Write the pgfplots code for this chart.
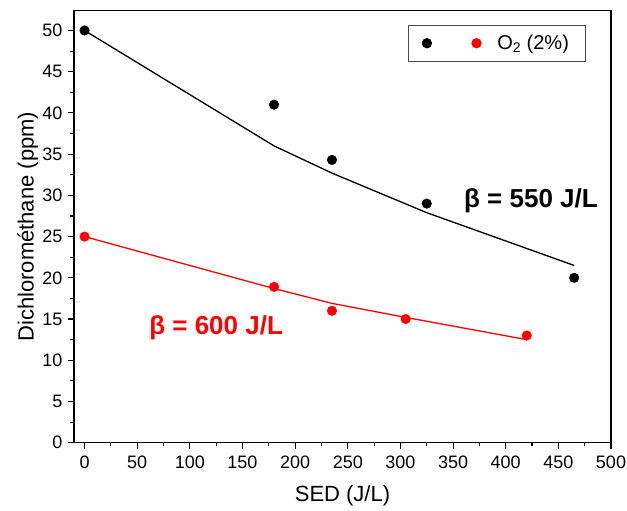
\documentclass[border=0pt]{standalone}
\usepackage{pgfplots}
\pgfplotsset{compat=1.18}
\usepackage{fontspec}
\setmainfont{Liberation Sans}
\begin{document}
\begin{tikzpicture}
\path[use as bounding box] (0,0) rectangle (627bp,511bp);
\begin{axis}[
  at={(74bp,68.3bp)}, anchor=south west,
  scale only axis, width=537bp, height=432bp,
  xmin=-10, xmax=500, ymin=0, ymax=52.4,
  xtick={0,50,...,500}, ytick={0,5,...,50},
  minor x tick num=1, minor y tick num=1,
  axis line style={line width=1.3bp},
  tick style={line width=1.1bp, black},
  major tick length=6bp, minor tick length=3.5bp,
  tick align=outside,
  xtick pos=bottom, ytick pos=left,
  /pgf/number format/assume math mode=true,
  ticklabel style={font=\fontsize{18bp}{20bp}\selectfont},
  xticklabel style={yshift=-4bp},
  yticklabel style={xshift=-2bp},
  label style={font=\fontsize{22bp}{24bp}\selectfont},
  xlabel={SED (J/L)}, ylabel={Dichlorométhane (ppm)},
  xlabel style={at={(axis description cs:0.5,-0.124)}, anchor=center},
  ylabel style={at={(axis description cs:-0.086,0.5)}, anchor=center},
  legend columns=2,
  legend style={at={(axis description cs:0.952,0.967)}, anchor=north east,
    draw=black!70, line width=0.6bp, font=\fontsize{20bp}{22bp}\selectfont,
    inner xsep=14bp, inner ysep=8bp,
    /tikz/every odd column/.append style={column sep=14bp},
    /tikz/every even column/.append style={column sep=22bp}},
]
\addplot[black, line width=1.3bp, forget plot] coordinates {(0,50) (180,36) (235,32.7) (325,27.9) (465,21.5)};
\addplot[red, line width=1.3bp, forget plot] coordinates {(0,25) (180,18.7) (235,16.9) (305,15.2) (420,12.5)};
\addplot[only marks, mark=*, mark size=4.8bp, black] coordinates {(0,50) (180,41) (235,34.3) (325,29) (465,20)};
\addlegendentry{}
\addplot[only marks, mark=*, mark size=4.8bp, red, mark options={fill=red, draw=red}] coordinates {(0,25) (180,18.9) (235,16) (305,15) (420,13)};
\addlegendentry{O\textsubscript{2} (2\%)}
\node[font=\bfseries\fontsize{26bp}{28bp}\selectfont, black] at (axis cs:424,29.4) {β = 550 J/L};
\node[font=\bfseries\fontsize{26bp}{28bp}\selectfont, red] at (axis cs:125,13.9) {β = 600 J/L};
\end{axis}
\end{tikzpicture}
\end{document}
